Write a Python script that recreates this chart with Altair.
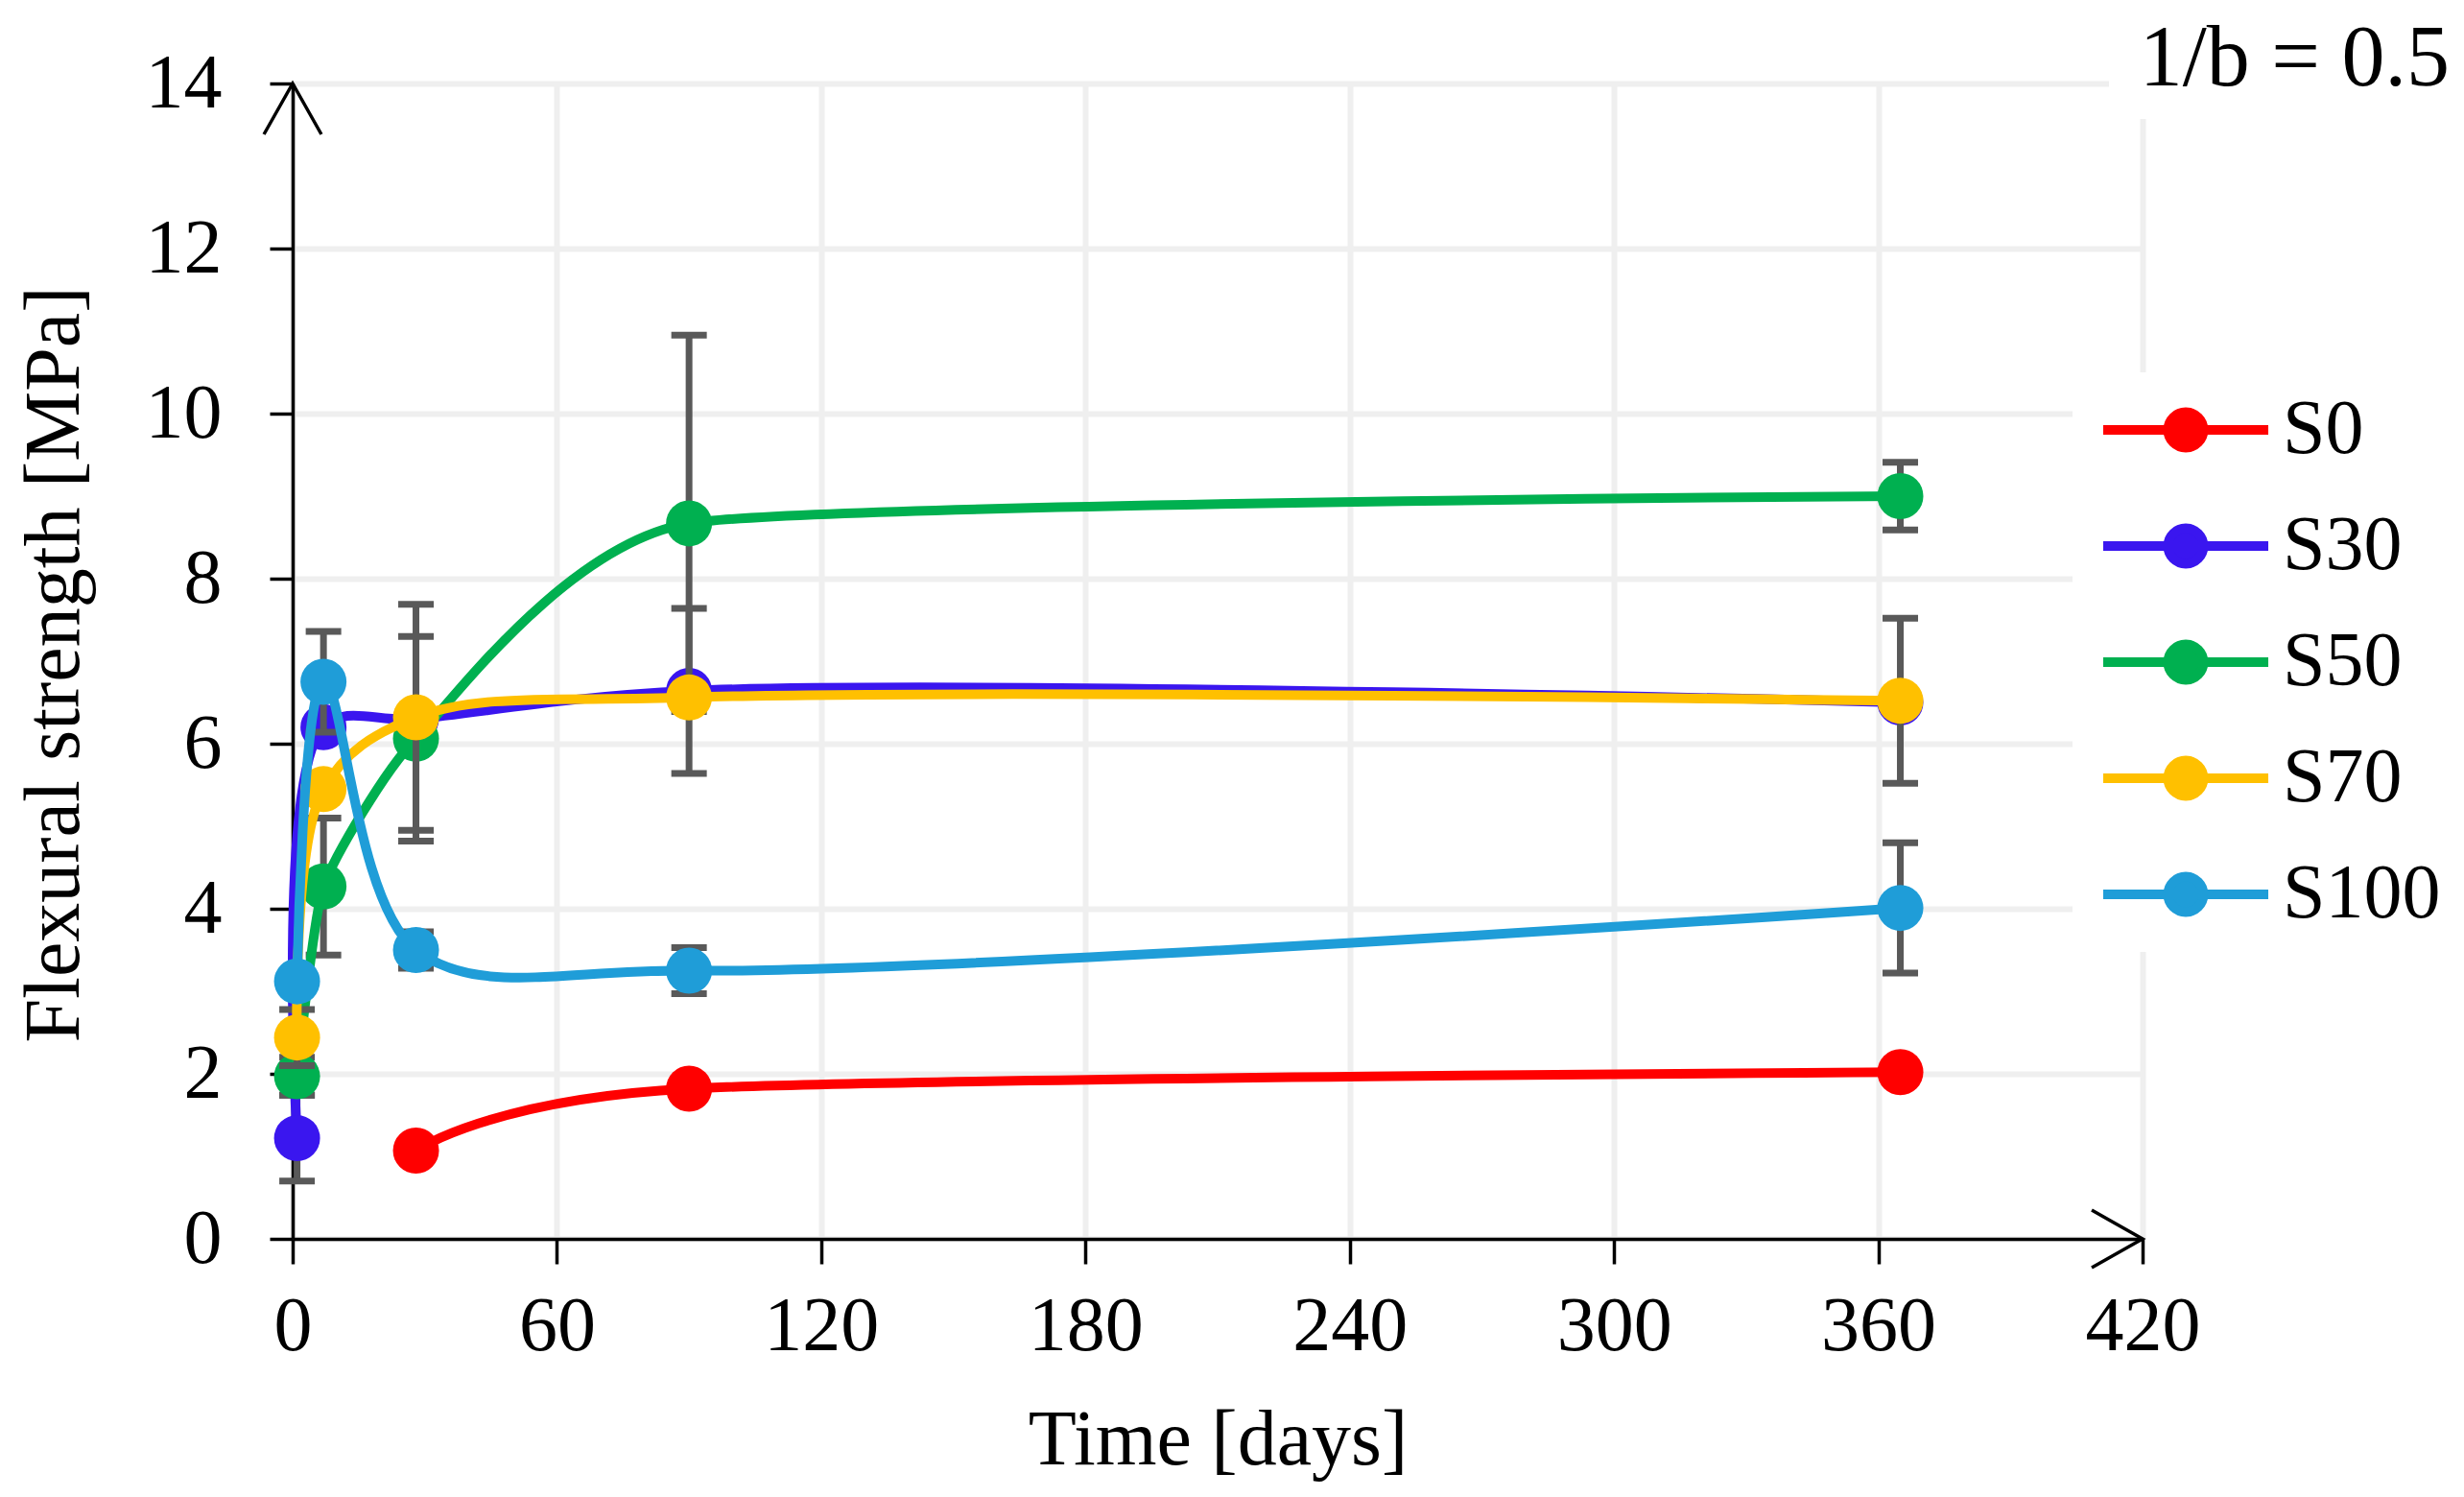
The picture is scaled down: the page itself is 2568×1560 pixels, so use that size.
import altair as alt
import pandas as pd

# ---------------- data ----------------
DAYS = [1, 7, 28, 90, 365]
SERIES = ["S0", "S30", "S50", "S70", "S100"]
COLORS = ["#ff0000", "#3a16ef", "#00b050", "#ffc000", "#1f9dd8"]

S0_DAYS = [28, 90, 365]
S0_VALUES = [1.07, 1.82, 2.02]
S30_VALUES = [1.22, 6.20, 6.30, 6.64, 6.50]
S50_VALUES = [1.97, 4.27, 6.06, 8.67, 9.00]
S70_VALUES = [2.44, 5.45, 6.32, 6.56, 6.52]
S100_VALUES = [3.12, 6.75, 3.50, 3.25, 4.01]

# half-width of the error bars (None = no visible bar)
S0_ERR = [None, None, None]
S30_ERR = [0.52, None, None, 1.00, None]
S50_ERR = [0.23, 0.83, 1.24, 2.28, 0.41]
S70_ERR = [0.34, None, 1.37, None, 1.00]
S100_ERR = [None, 0.61, 0.22, 0.28, 0.79]

X_TICKS = [0, 60, 120, 180, 240, 300, 360, 420]
Y_TICKS = [0, 2, 4, 6, 8, 10, 12, 14]
X_TITLE = "Time [days]"
Y_TITLE = "Flexural strength [MPa]"
NOTE = "1/b = 0.5"

# ---------------- styling ----------------
W, H = 1928, 1204
FONT = "Liberation Serif"
ERR_COLOR = "#595959"
LEGEND_SYMBOL = "M-3.74,0L3.74,0M0.8,0A0.8,0.8,0,1,1,-0.8,0A0.8,0.8,0,1,1,0.8,0Z"
# smoothing style per series: (interpolation, tension)
SMOOTH = {"S0": ("cardinal", 0.2), "S30": ("catmull-rom", None),
          "S50": ("cardinal", 0.5), "S70": ("catmull-rom", None),
          "S100": ("catmull-rom", None)}

x_scale = alt.Scale(domain=[0, 420], nice=False, zero=True)
y_scale = alt.Scale(domain=[0, 14], nice=False, zero=True)

x_axis = alt.Axis(
    values=X_TICKS, title=X_TITLE, titleFontSize=82, titleFontWeight="normal",
    titleColor="black", titleX=W / 2, titleY=234, titleBaseline="alphabetic",
    titleAlign="center", labelFontSize=80, labelColor="black", labelPadding=26,
    labelFlush=False, labelOverlap=False, tickSize=26, tickWidth=3.5,
    tickColor="black", domainColor="black", domainWidth=3.5,
    grid=True, gridColor="#efefef", gridWidth=6,
)
y_axis = alt.Axis(
    values=Y_TICKS, title=Y_TITLE, titleFontSize=82, titleFontWeight="normal",
    titleColor="black", titleX=-224, titleY=605, titleAngle=270,
    titleBaseline="alphabetic", titleAlign="center", labelFontSize=80,
    labelColor="black", labelPadding=50, labelFlush=False, labelOverlap=False,
    tickSize=24, tickWidth=3.5, tickColor="black", domainColor="black",
    domainWidth=3.5, grid=True, gridColor="#efefef", gridWidth=6,
)
legend = alt.Legend(
    title=None, orient="none", legendX=1855, legendY=301, padding=20,
    fillColor="white", symbolType=LEGEND_SYMBOL, symbolSize=2116,
    symbolStrokeWidth=10, symbolOffset=58, labelOffset=61, labelFontSize=80,
    labelFont=FONT, labelColor="black", labelLimit=400, rowPadding=41,
    symbolOpacity=1,
)
color = alt.Color("series:N", scale=alt.Scale(domain=SERIES, range=COLORS), legend=legend)

X = lambda f: alt.X(f"{f}:Q", scale=x_scale, axis=x_axis)
Y = lambda f: alt.Y(f"{f}:Q", scale=y_scale, axis=y_axis)

series_data = [
    ("S0", S0_DAYS, S0_VALUES, S0_ERR),
    ("S30", DAYS, S30_VALUES, S30_ERR),
    ("S50", DAYS, S50_VALUES, S50_ERR),
    ("S70", DAYS, S70_VALUES, S70_ERR),
    ("S100", DAYS, S100_VALUES, S100_ERR),
]

layers = []
for name, days, vals, errs in series_data:
    df = pd.DataFrame({"day": days, "value": vals, "series": name})
    erows = [
        {"day": d, "lo": v - e, "hi": v + e}
        for d, v, e in zip(days, vals, errs) if e is not None
    ]
    if erows:
        edf = pd.DataFrame(erows)
        base = alt.Chart(edf)
        layers.append(base.mark_rule(color=ERR_COLOR, strokeWidth=7).encode(
            x=X("day"), y=Y("lo"), y2="hi:Q"))
        layers.append(base.mark_tick(color=ERR_COLOR, orient="horizontal", size=37,
                                     thickness=7, opacity=1).encode(x=X("day"), y=Y("lo")))
        layers.append(base.mark_tick(color=ERR_COLOR, orient="horizontal", size=37,
                                     thickness=7, opacity=1).encode(x=X("day"), y=Y("hi")))
    interp, tension = SMOOTH[name]
    line_kw = {"strokeWidth": 10, "interpolate": interp}
    if tension is not None:
        line_kw["tension"] = tension
    c = alt.Chart(df)
    layers.append(c.mark_line(**line_kw).encode(x=X("day"), y=Y("value"), color=color))
    layers.append(c.mark_circle(size=2304, opacity=1).encode(
        x=X("day"), y=Y("value"), color=color))

# axis arrowheads placed at the axis ends through the scales
up = pd.DataFrame({"day": [X_TICKS[0]], "value": [Y_TICKS[-1]]})
right = pd.DataFrame({"day": [X_TICKS[-1]], "value": [Y_TICKS[0]]})
layers.append(alt.Chart(up).mark_point(shape="M-1.13,2L0,0L1.13,2", filled=False, size=2809,
                                       color="black", strokeWidth=3.5, opacity=1).encode(
    x=X("day"), y=Y("value")))
layers.append(alt.Chart(right).mark_point(shape="M-2,-1.13L0,0L-2,1.13", filled=False, size=2809,
                                          color="black", strokeWidth=3.5, opacity=1).encode(
    x=X("day"), y=Y("value")))

# white panel behind the annotation, then the annotation text
note_df = pd.DataFrame({"note": [NOTE]})
layers.append(alt.Chart(note_df).mark_rect(color="white").encode(
    x=alt.value(1893), x2=alt.value(2262), y=alt.value(-40), y2=alt.value(37)))
layers.append(alt.Chart(note_df).mark_text(align="right", baseline="alphabetic", fontSize=90,
                                           font=FONT, color="black").encode(
    text="note:N", x=alt.value(2248), y=alt.value(2)))

chart = alt.layer(*layers).properties(
    width=W, height=H,
    padding={"left": 297, "top": 79, "right": 327, "bottom": 261},
    autosize=alt.AutoSizeParams(type="none"),
    background="white",
).configure(font=FONT).configure_view(stroke=None)

chart.save("out.html", embed_options={"renderer": "svg", "actions": False})
